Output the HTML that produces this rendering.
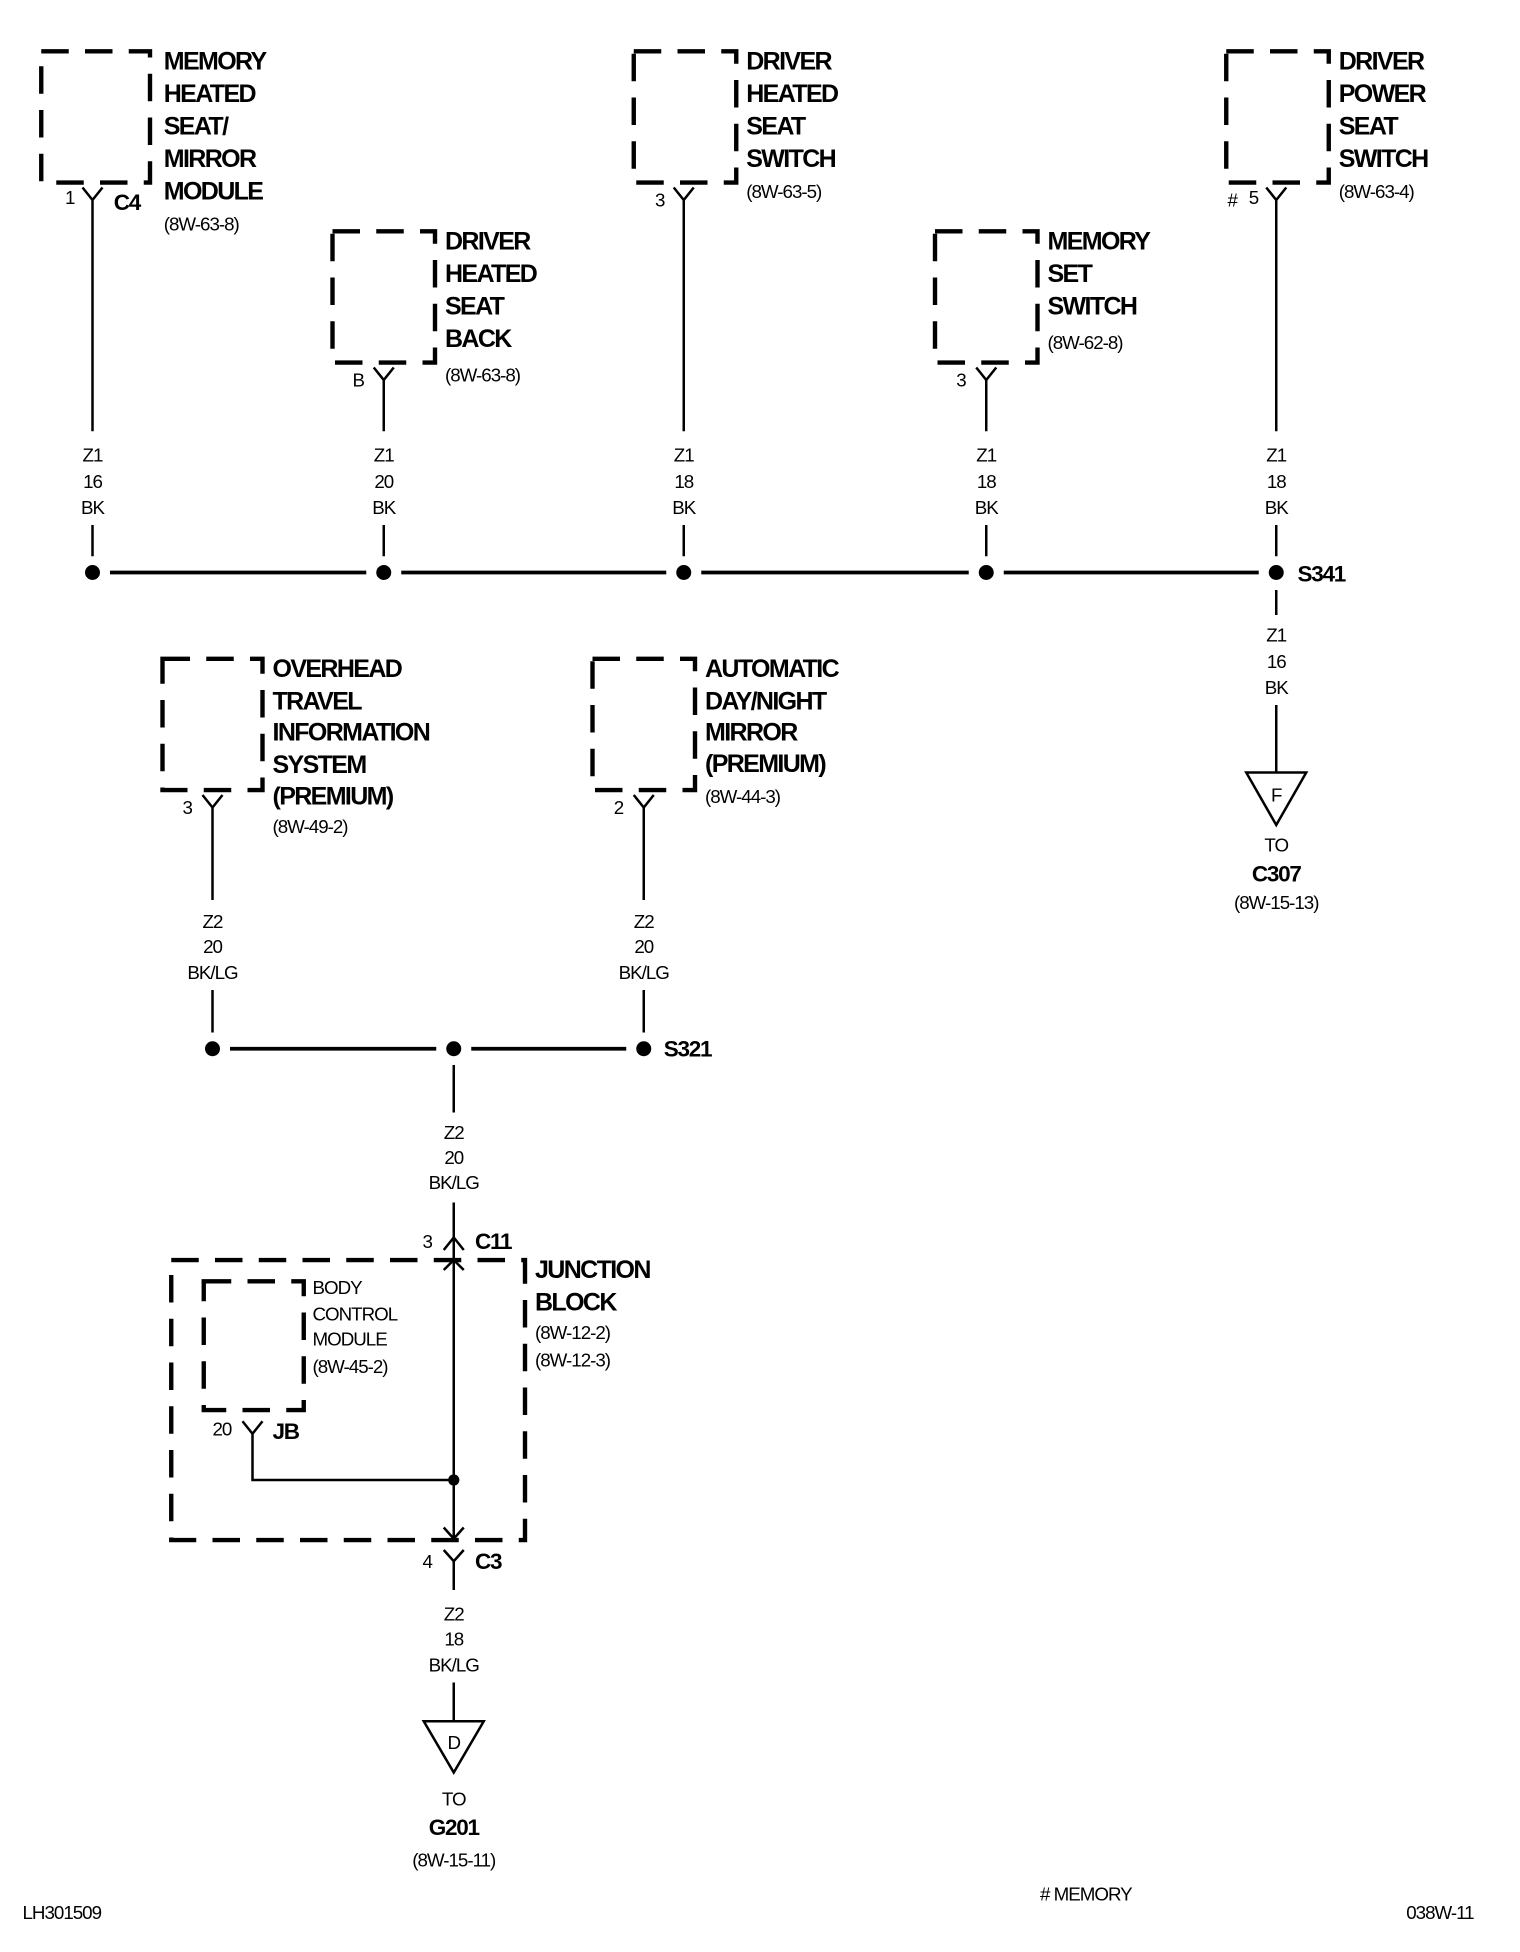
<!DOCTYPE html>
<html><head><meta charset="utf-8"><style>
html,body{margin:0;padding:0;background:#fff}
svg{display:block}
text{font-family:"Liberation Sans",sans-serif;dominant-baseline:central;fill:#000}
.t{font-weight:bold;font-size:20px;letter-spacing:-1.3px}
.s{font-size:15px;letter-spacing:-0.8px}
.sb{font-size:18px;font-weight:bold;letter-spacing:-1px}
.c{text-anchor:middle}
.box{fill:none;stroke:#000;stroke-width:3.5;stroke-dasharray:22 13}
.w{stroke:#000;stroke-width:2;fill:none}
.b{stroke:#000;stroke-width:3;fill:none}
</style></head><body>
<svg width="1520" height="1952" viewBox="0 0 1216 1561.6">
<rect class="box" x="33" y="41" width="87" height="105"/>
<rect class="box" x="507" y="41" width="82" height="105"/>
<rect class="box" x="981" y="41" width="82" height="105"/>
<rect class="box" x="266" y="185" width="82" height="105"/>
<rect class="box" x="748" y="185" width="82" height="105"/>
<rect class="box" x="130" y="527" width="80" height="105"/>
<rect class="box" x="474" y="527" width="82" height="105"/>
<rect class="box" x="137" y="1008" width="283" height="224"/>
<rect class="box" x="163" y="1025" width="80" height="103"/>

<g class="t">
<text x="131" y="49">MEMORY</text><text x="131" y="75">HEATED</text><text x="131" y="101">SEAT/</text><text x="131" y="127">MIRROR</text><text x="131" y="153">MODULE</text>
<text x="597" y="49">DRIVER</text><text x="597" y="75">HEATED</text><text x="597" y="101">SEAT</text><text x="597" y="127">SWITCH</text>
<text x="1071" y="49">DRIVER</text><text x="1071" y="75">POWER</text><text x="1071" y="101">SEAT</text><text x="1071" y="127">SWITCH</text>
<text x="356" y="193">DRIVER</text><text x="356" y="219">HEATED</text><text x="356" y="245">SEAT</text><text x="356" y="271">BACK</text>
<text x="838" y="193">MEMORY</text><text x="838" y="219">SET</text><text x="838" y="245">SWITCH</text>
<text x="218" y="535">OVERHEAD</text><text x="218" y="561">TRAVEL</text><text x="218" y="586">INFORMATION</text><text x="218" y="612">SYSTEM</text><text x="218" y="637">(PREMIUM)</text>
<text x="564" y="535">AUTOMATIC</text><text x="564" y="561">DAY/NIGHT</text><text x="564" y="586">MIRROR</text><text x="564" y="611">(PREMIUM)</text>
<text x="428" y="1016">JUNCTION</text><text x="428" y="1042">BLOCK</text>
</g>
<g class="s">
<text x="131" y="179">(8W-63-8)</text>
<text x="597" y="153">(8W-63-5)</text>
<text x="1071" y="153">(8W-63-4)</text>
<text x="356" y="300">(8W-63-8)</text>
<text x="838" y="274">(8W-62-8)</text>
<text x="218" y="661">(8W-49-2)</text>
<text x="564" y="637">(8W-44-3)</text>
<text x="428" y="1066">(8W-12-2)</text><text x="428" y="1088">(8W-12-3)</text>
<text x="250" y="1030">BODY</text><text x="250" y="1051">CONTROL</text><text x="250" y="1071">MODULE</text><text x="250" y="1093">(8W-45-2)</text>
<text x="52" y="158">1</text><text x="282" y="304">B</text><text x="524" y="160">3</text><text x="765" y="304">3</text><text x="982" y="160">#</text><text x="999" y="158">5</text>
<text x="146" y="646">3</text><text x="491" y="646">2</text>
<text x="338" y="993">3</text><text x="170" y="1143">20</text><text x="338" y="1249">4</text>
<text x="18" y="1530">LH301509</text><text x="832" y="1515"># MEMORY</text><text x="1125" y="1530">038W-11</text>
</g>
<g class="s c">
<text x="74" y="364">Z1</text><text x="74" y="385">16</text><text x="74" y="406">BK</text>
<text x="307" y="364">Z1</text><text x="307" y="385">20</text><text x="307" y="406">BK</text>
<text x="547" y="364">Z1</text><text x="547" y="385">18</text><text x="547" y="406">BK</text>
<text x="789" y="364">Z1</text><text x="789" y="385">18</text><text x="789" y="406">BK</text>
<text x="1021" y="364">Z1</text><text x="1021" y="385">18</text><text x="1021" y="406">BK</text>
<text x="1021" y="508">Z1</text><text x="1021" y="529">16</text><text x="1021" y="550">BK</text>
<text x="170" y="737">Z2</text><text x="170" y="757">20</text><text x="170" y="778">BK/LG</text>
<text x="515" y="737">Z2</text><text x="515" y="757">20</text><text x="515" y="778">BK/LG</text>
<text x="363" y="906">Z2</text><text x="363" y="926">20</text><text x="363" y="946">BK/LG</text>
<text x="363" y="1291">Z2</text><text x="363" y="1311">18</text><text x="363" y="1332">BK/LG</text>
<text x="1021" y="636">F</text><text x="1021" y="676">TO</text><text x="1021" y="722">(8W-15-13)</text>
<text x="363" y="1394">D</text><text x="363" y="1439">TO</text><text x="363" y="1488">(8W-15-11)</text>
</g>
<g class="sb">
<text x="91" y="162">C4</text><text x="1038" y="459">S341</text><text x="531" y="839">S321</text>
<text x="380" y="993">C11</text><text x="218" y="1145">JB</text><text x="380" y="1249">C3</text>
<text x="1021" y="699" class="c">C307</text><text x="363" y="1462" class="c">G201</text>
</g>

<g class="w">
<path d="M66 150 L74 160 L82 150 M74 160 V345 M74 420 V445"/>
<path d="M299 294 L307 304 L315 294 M307 304 V345 M307 420 V445"/>
<path d="M539 150 L547 160 L555 150 M547 160 V345 M547 420 V445"/>
<path d="M781 294 L789 304 L797 294 M789 304 V345 M789 420 V445"/>
<path d="M1013 150 L1021 160 L1029 150 M1021 160 V345 M1021 420 V445"/>
<path d="M1021 472 V492 M1021 564 V618"/>
<path d="M162 636 L170 646 L178 636 M170 646 V720 M170 792 V826"/>
<path d="M507 636 L515 646 L523 636 M515 646 V720 M515 792 V826"/>
<path d="M363 852 V890 M363 962 V1232"/>
<path d="M355 1000 L363 990 L371 1000 M355 1016 L363 1008 L371 1016"/>
<path d="M355 1222 L363 1231 L371 1222 M355 1240 L363 1249 L371 1240 M363 1249 V1272 M363 1346 V1377"/>
<path d="M194 1137 L202 1147 L210 1137 M202 1147 V1184 H363"/>
<path d="M997 618 H1045 L1021 660 Z"/>
<path d="M339 1377 H387 L363 1418 Z"/>
</g>
<g class="b">
<path d="M88 458 H293 M321 458 H533 M561 458 H775 M803 458 H1007"/>
<path d="M184 839 H349 M377 839 H501"/>
</g>
<g fill="#000">
<circle cx="74" cy="458" r="6"/><circle cx="307" cy="458" r="6"/><circle cx="547" cy="458" r="6"/><circle cx="789" cy="458" r="6"/><circle cx="1021" cy="458" r="6"/>
<circle cx="170" cy="839" r="6"/><circle cx="363" cy="839" r="6"/><circle cx="515" cy="839" r="6"/>
<circle cx="363" cy="1184" r="4.5"/>
</g>
</svg>
</body></html>
